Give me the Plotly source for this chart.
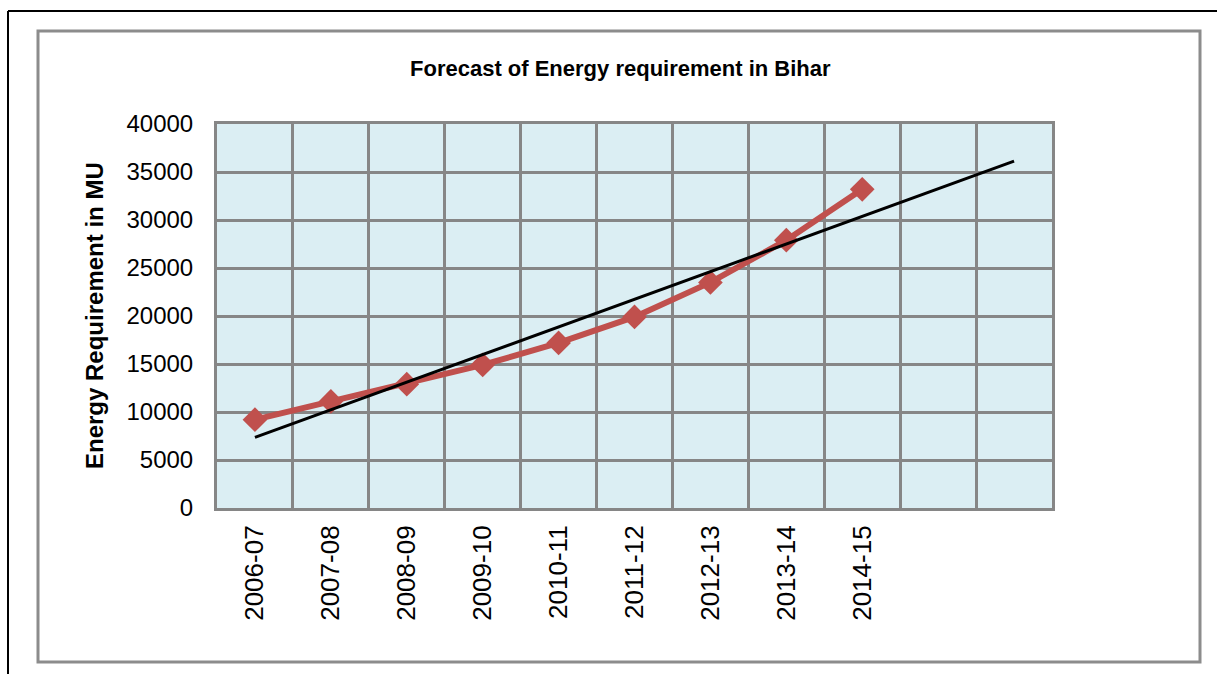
import numpy as np
import plotly.graph_objects as go

years = ["2006-07", "2007-08", "2008-09", "2009-10", "2010-11",
         "2011-12", "2012-13", "2013-14", "2014-15"]
energy_mu = [9200, 11100, 12900, 14900, 17200, 19900, 23500, 27900, 33200]
n_slots = 11  # category slots shown on the axis (two empty ones at the end)

x_pos = list(range(1, len(years) + 1))
slope, intercept = np.polyfit(x_pos, energy_mu, 1)
trend_x = [1, n_slots]
trend_y = [intercept + slope * v for v in trend_x]

W, H = 1217, 674
L, R, T, B = 217, 1052, 124, 508
pw, ph = R - L, B - T


def px(x):
    return (x - L) / pw


def py(y):
    return (B - y) / ph


GRID = "#868686"
FONT = "Liberation Sans, Arial, sans-serif"

fig = go.Figure()
fig.add_trace(go.Scatter(
    x=x_pos, y=energy_mu, mode="lines+markers",
    line=dict(color="#C0504D", width=6),
    marker=dict(symbol="diamond", size=19, color="#C0504D"),
    showlegend=False, cliponaxis=False,
))
fig.add_trace(go.Scatter(
    x=trend_x, y=trend_y, mode="lines",
    line=dict(color="#000000", width=3),
    showlegend=False,
))

fig.update_layout(
    width=W, height=H,
    margin=dict(l=L, r=W - R, t=T, b=H - B, autoexpand=False),
    paper_bgcolor="white",
    plot_bgcolor="#DBEEF3",
    font=dict(family=FONT, size=24, color="black"),
    xaxis=dict(
        range=[0.5, n_slots + 0.5],
        tickmode="array", tickvals=x_pos, ticktext=years,
        tickangle=-90, showgrid=False, zeroline=False,
        tickfont=dict(size=26),
        showline=True, mirror=True, linecolor=GRID, linewidth=3,
        ticks="", ticklabelstandoff=4,
        minor=dict(tickmode="linear", tick0=0.5, dtick=1, showgrid=True,
                   gridcolor=GRID, gridwidth=3, ticks=""),
        fixedrange=True,
    ),
    yaxis=dict(
        range=[0, 40000], dtick=5000, tickformat="d", showgrid=True,
        gridcolor=GRID, gridwidth=3, zeroline=False,
        showline=True, mirror=True, linecolor=GRID, linewidth=3,
        ticks="", ticklabelstandoff=16,
    ),
    annotations=[
        dict(text="<b>Forecast of Energy requirement in Bihar</b>",
             x=px(620), y=py(68), xref="paper", yref="paper",
             showarrow=False, xanchor="center", yanchor="middle",
             font=dict(family=FONT, size=22)),
        dict(text="<b>Energy Requirement in MU</b>",
             x=px(94), y=py(316), xref="paper", yref="paper",
             showarrow=False, xanchor="center", yanchor="middle",
             textangle=-90,
             font=dict(family=FONT, size=24)),
    ],
    shapes=[
        dict(type="rect", xref="paper", yref="paper",
             x0=px(38), x1=px(1200), y0=py(662), y1=py(31),
             line=dict(color="#8C8C8C", width=3), layer="below"),
        dict(type="line", xref="paper", yref="paper",
             x0=px(8), x1=px(1230), y0=py(11), y1=py(11),
             line=dict(color="black", width=2)),
        dict(type="line", xref="paper", yref="paper",
             x0=px(8), x1=px(8), y0=py(11), y1=py(690),
             line=dict(color="black", width=2)),
    ],
)

fig.write_html("out.html",
               config={"displayModeBar": False},
               post_script="document.body.style.margin='0';"
                           "document.body.style.overflow='hidden';")
